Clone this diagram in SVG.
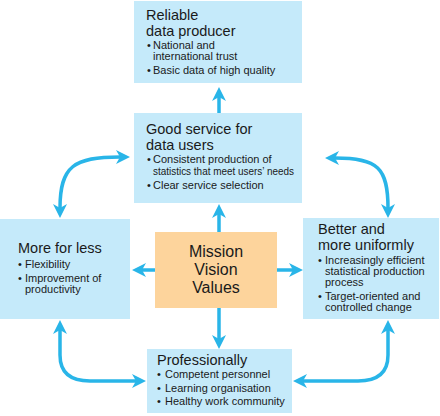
<svg xmlns="http://www.w3.org/2000/svg" width="440" height="416" viewBox="0 0 440 416">
<style>
.box{fill:#c5eafa}
.core{fill:#fdd49c}
.t{font-family:"Liberation Sans",Arial,sans-serif;font-size:14.5px;fill:#1a1a1a}
.b{font-family:"Liberation Sans",Arial,sans-serif;font-size:11px;fill:#1a1a1a}
.m{font-family:"Liberation Sans",Arial,sans-serif;font-size:16px;fill:#1a1a1a;text-anchor:middle}
.c{fill:none;stroke:#29b5e8;stroke-width:3.5;marker-start:url(#ah);marker-end:url(#ah)}
.s{fill:none;stroke:#29b5e8;stroke-width:3.5;marker-end:url(#ah)}
</style>
<defs>
<marker id="ah" viewBox="0 0 14 14" refX="4" refY="7" markerWidth="14" markerHeight="14" markerUnits="userSpaceOnUse" orient="auto-start-reverse">
<path d="M0,0 L14,7 L0,14 L4,7 Z" fill="#29b5e8"/>
</marker>
</defs>
<g id="connectors">
<path class="s" d="M219,113 L219,97"/>
<path class="s" d="M219,232 L219,214"/>
<path class="s" d="M219,308 L219,339"/>
<path class="s" d="M155,270 L142,270"/>
<path class="s" d="M277,270 L293,270"/>
<path class="c" d="M60,208 C60,166 74,157 120,157"/>
<path class="c" d="M335,158 C378,158 388,168 388,208"/>
<path class="c" d="M60,330 L60,355 C60,372 70,381 90,381 L136,381"/>
<path class="c" d="M388,330 L388,355 C388,372 378,381 358,381 L303,381"/>
</g>
<g id="reliable">
<rect class="box" x="134" y="1" width="168" height="82"/>
<text class="t" x="146" y="20">Reliable</text>
<text class="t" x="146" y="36">data producer</text>
<text class="b" x="147" y="49">•</text><text class="b" x="153" y="49">National and</text>
<text class="b" x="153" y="60">international trust</text>
<text class="b" x="147" y="74">•</text><text class="b" x="153" y="74">Basic data of high quality</text>
</g>
<g id="service">
<rect class="box" x="134" y="113" width="168" height="90"/>
<text class="t" x="146" y="134">Good service for</text>
<text class="t" x="146" y="150">data users</text>
<text class="b" x="147" y="163">•</text><text class="b" x="153" y="163">Consistent production of</text>
<text class="b" x="153" y="175" textLength="141" lengthAdjust="spacingAndGlyphs">statistics that meet users’ needs</text>
<text class="b" x="147" y="189">•</text><text class="b" x="153" y="189">Clear service selection</text>
</g>
<g id="mission">
<rect class="core" x="155" y="232" width="122" height="76"/>
<text class="m" x="216" y="257">Mission</text>
<text class="m" x="216" y="275">Vision</text>
<text class="m" x="216" y="293">Values</text>
</g>
<g id="moreforless">
<rect class="box" x="0" y="219" width="130" height="100"/>
<text class="t" x="18" y="253">More for less</text>
<text class="b" x="18" y="268">•</text><text class="b" x="25" y="268">Flexibility</text>
<text class="b" x="18" y="282">•</text><text class="b" x="25" y="282">Improvement of</text>
<text class="b" x="25" y="293">productivity</text>
</g>
<g id="better">
<rect class="box" x="303" y="218" width="136" height="101"/>
<text class="t" x="318" y="234">Better and</text>
<text class="t" x="318" y="250">more uniformly</text>
<text class="b" x="318" y="264">•</text><text class="b" x="325" y="264">Increasingly efficient</text>
<text class="b" x="325" y="275">statistical production</text>
<text class="b" x="325" y="286">process</text>
<text class="b" x="318" y="300">•</text><text class="b" x="325" y="300">Target-oriented and</text>
<text class="b" x="325" y="311">controlled change</text>
</g>
<g id="professionally">
<rect class="box" x="147" y="349" width="145" height="64"/>
<text class="t" x="157" y="365">Professionally</text>
<text class="b" x="157" y="378">•</text><text class="b" x="165" y="378">Competent personnel</text>
<text class="b" x="157" y="392">•</text><text class="b" x="165" y="392">Learning organisation</text>
<text class="b" x="157" y="405">•</text><text class="b" x="165" y="405">Healthy work community</text>
</g>
</svg>
